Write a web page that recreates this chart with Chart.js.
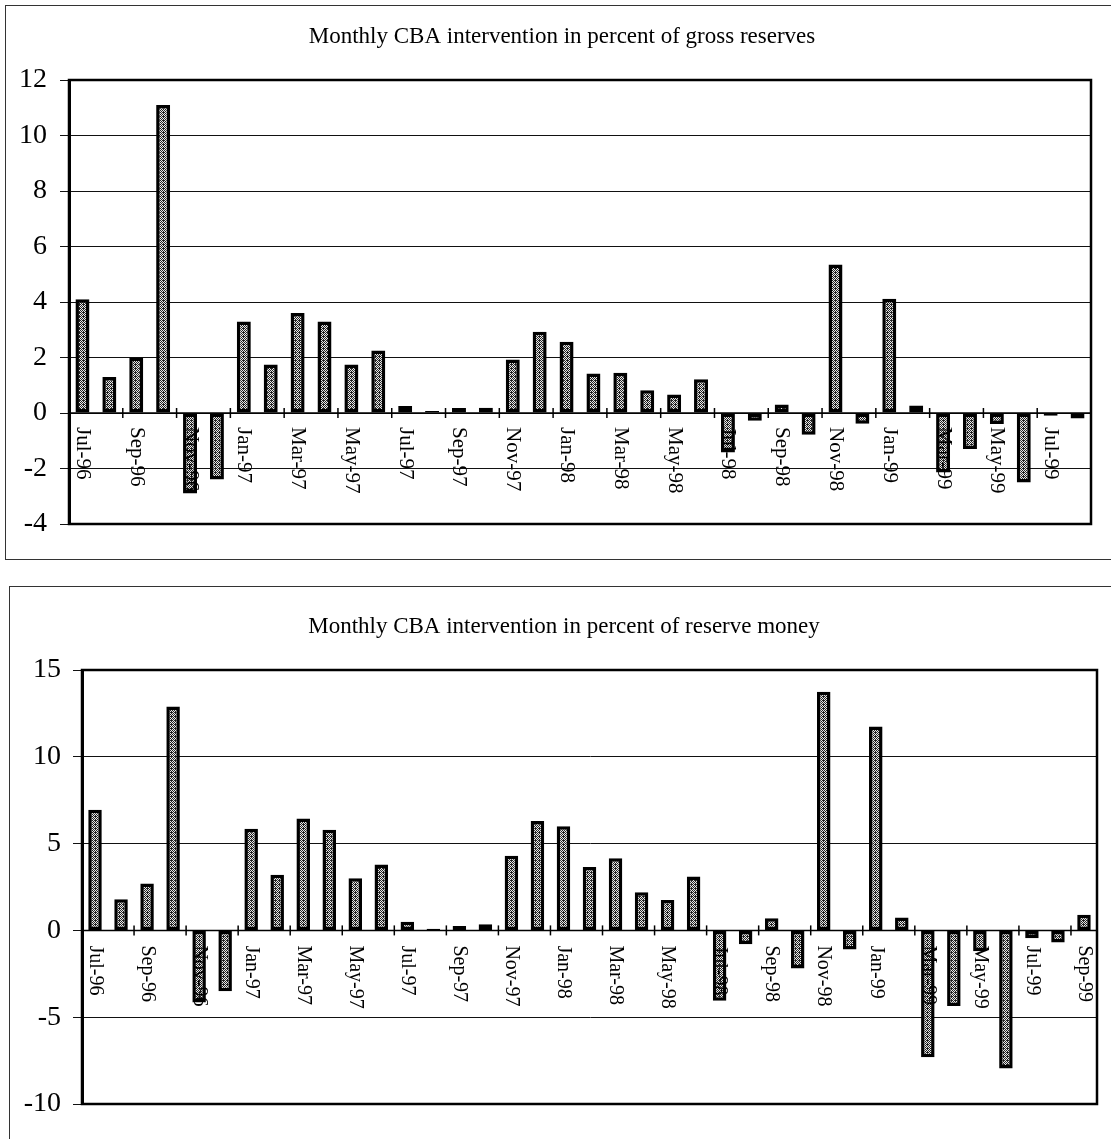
<!DOCTYPE html>
<html>
<head>
<meta charset="utf-8">
<title>Monthly CBA intervention</title>
<script src="https://cdn.jsdelivr.net/npm/chart.js@4.4.1/dist/chart.umd.min.js"></script>
<style>
  html, body { margin: 0; padding: 0; background: #fff; overflow: hidden; width: 1111px; height: 1139px; }
  .frame { position: absolute; border: 1.5px solid #333; box-sizing: border-box; }
  #frameTop { left: 5px; top: 5px; width: 1140px; height: 555px; }
  #frameBottom { left: 9px; top: 586px; width: 1140px; height: 620px; }
  canvas { position: absolute; left: 0; }
  #grossCanvas { top: 0; }
  #moneyCanvas { top: 580px; }
</style>
</head>
<body>
<div class="frame" id="frameTop"></div>
<div class="frame" id="frameBottom"></div>
<canvas id="grossCanvas" width="1111" height="580"></canvas>
<canvas id="moneyCanvas" width="1111" height="559"></canvas>
<script>
// Months for the gross-reserves panel (Jul-96 .. Aug-99)
const grossMonths = [
  'Jul-96','Aug-96','Sep-96','Oct-96','Nov-96','Dec-96',
  'Jan-97','Feb-97','Mar-97','Apr-97','May-97','Jun-97','Jul-97','Aug-97','Sep-97','Oct-97','Nov-97','Dec-97',
  'Jan-98','Feb-98','Mar-98','Apr-98','May-98','Jun-98','Jul-98','Aug-98','Sep-98','Oct-98','Nov-98','Dec-98',
  'Jan-99','Feb-99','Mar-99','Apr-99','May-99','Jun-99','Jul-99','Aug-99'
];
// Intervention, percent of gross reserves
const grossReservesPct = [
  4.1, 1.3, 2.0, 11.1, -2.9, -2.4,
  3.3, 1.75, 3.6, 3.3, 1.75, 2.25, 0.25, 0.07, 0.18, 0.19, 1.93, 2.93,
  2.57, 1.42, 1.45, 0.82, 0.67, 1.22, -1.42, -0.28, 0.31, -0.78, 5.35, -0.39,
  4.12, 0.27, -2.14, -1.3, -0.4, -2.5, -0.1, -0.2
];
const grossTicks = [-4, -2, 0, 2, 4, 6, 8, 10, 12];

// Months for the reserve-money panel (Jul-96 .. Sep-99)
const moneyMonths = [
  'Jul-96','Aug-96','Sep-96','Oct-96','Nov-96','Dec-96',
  'Jan-97','Feb-97','Mar-97','Apr-97','May-97','Jun-97','Jul-97','Aug-97','Sep-97','Oct-97','Nov-97','Dec-97',
  'Jan-98','Feb-98','Mar-98','Apr-98','May-98','Jun-98','Jul-98','Aug-98','Sep-98','Oct-98','Nov-98','Dec-98',
  'Jan-99','Feb-99','Mar-99','Apr-99','May-99','Jun-99','Jul-99','Aug-99','Sep-99'
];
// Intervention, percent of reserve money
const reserveMoneyPct = [
  6.95, 1.8, 2.7, 12.9, -4.15, -3.5,
  5.85, 3.2, 6.45, 5.8, 3.0, 3.8, 0.5, 0.1, 0.25, 0.35, 4.3, 6.3,
  6.0, 3.65, 4.15, 2.2, 1.75, 3.1, -4.05, -0.8, 0.7, -2.2, 13.75, -1.1,
  11.75, 0.75, -7.3, -4.35, -1.2, -7.95, -0.45, -0.7, 0.9
];
const moneyTicks = [-10, -5, 0, 5, 10, 15];

const SERIF = "'Liberation Serif', 'Times New Roman', serif";

// Dotted halftone fill used inside the bars
function makeDotPattern() {
  const c = document.createElement('canvas');
  c.width = 4; c.height = 4;
  const g = c.getContext('2d');
  g.fillStyle = '#e8e8e8';
  g.fillRect(0, 0, 4, 4);
  g.fillStyle = '#222222';
  [[0,0],[2,0],[1,1],[3,1],[0,2],[2,2],[1,3],[3,3],[3,0]].forEach(([px, py]) => g.fillRect(px, py, 1, 1));
  return g.createPattern(c, 'repeat');
}

// Heading text centred at a fixed point above the plot
const panelHeading = {
  id: 'panelHeading',
  afterDraw(chart, args, opts) {
    const ctx = chart.ctx;
    ctx.save();
    ctx.fillStyle = '#000';
    ctx.font = opts.font;
    ctx.textAlign = 'center';
    ctx.textBaseline = 'middle';
    ctx.fillText(opts.text, opts.x, opts.y);
    ctx.restore();
  }
};

// Zero axis with tick marks, month labels rotated downward, and plot frame
const excelAxis = {
  id: 'excelAxis',
  afterDatasetsDraw(chart, args, opts) {
    const { ctx, chartArea: a, scales: { x, y } } = chart;
    const y0 = y.getPixelForValue(0);
    ctx.save();
    ctx.strokeStyle = '#000';
    ctx.lineWidth = 1.5;
    ctx.beginPath();
    ctx.moveTo(a.left, y0);
    ctx.lineTo(a.right, y0);
    ctx.stroke();

    const n = chart.data.labels.length;
    for (let k = 2; k < n; k += 2) {
      const bx = (x.getPixelForValue(k - 1) + x.getPixelForValue(k)) / 2;
      ctx.beginPath();
      ctx.moveTo(bx, y0 - 5);
      ctx.lineTo(bx, y0 + 5);
      ctx.stroke();
    }

    ctx.fillStyle = '#000';
    ctx.font = opts.font;
    ctx.textAlign = 'left';
    ctx.textBaseline = 'middle';
    chart.data.labels.forEach((lab, i) => {
      if (i % 2) return;
      ctx.save();
      ctx.translate(x.getPixelForValue(i), y0 + opts.gap);
      ctx.rotate(Math.PI / 2);
      ctx.fillText(lab, 0, 0);
      ctx.restore();
    });

    ctx.lineWidth = 2.5;
    ctx.strokeRect(a.left, a.top, a.right - a.left, a.bottom - a.top);
    ctx.restore();
  }
};

function buildPanel(canvasId, title, labels, values, ticks, g) {
  return new Chart(document.getElementById(canvasId), {
    type: 'bar',
    data: {
      labels: labels,
      datasets: [{
        data: values,
        backgroundColor: makeDotPattern(),
        borderColor: '#000',
        borderWidth: 3.5,
        borderSkipped: false,
        barPercentage: 0.52,
        categoryPercentage: 1.0
      }]
    },
    options: {
      responsive: false,
      animation: false,
      events: [],
      layout: { padding: g.padding },
      plugins: {
        legend: { display: false },
        tooltip: { enabled: false },
        title: { display: false },
        panelHeading: { text: title, font: '23px ' + SERIF, x: g.titleX, y: g.titleY },
        excelAxis: { font: g.labelFont, gap: g.labelGap }
      },
      scales: {
        x: { display: false, offset: true },
        y: {
          min: ticks[0],
          max: ticks[ticks.length - 1],
          ticks: {
            stepSize: ticks[1] - ticks[0],
            color: '#000',
            padding: g.tickPad,
            font: { family: SERIF, size: 28 }
          },
          grid: { color: '#111', lineWidth: 1, tickLength: 9, drawTicks: true },
          border: { display: true, color: '#000', width: 3 },
          afterFit(scale) { scale.width = g.axisWidth; }
        }
      }
    },
    plugins: [excelAxis, panelHeading]
  });
}

buildPanel('grossCanvas', 'Monthly CBA intervention in percent of gross reserves',
  grossMonths, grossReservesPct, grossTicks, {
    padding: { left: 0, right: 20, top: 80, bottom: 56 },
    titleX: 562, titleY: 37,
    axisWidth: 69,
    tickPad: 13,
    labelFont: '21px ' + SERIF,
    labelGap: 14
  });

buildPanel('moneyCanvas', 'Monthly CBA intervention in percent of reserve money',
  moneyMonths, reserveMoneyPct, moneyTicks, {
    padding: { left: 0, right: 14, top: 90, bottom: 35 },
    titleX: 564, titleY: 47,
    axisWidth: 82,
    tickPad: 12,
    labelFont: '20px ' + SERIF,
    labelGap: 15
  });
</script>
</body>
</html>
